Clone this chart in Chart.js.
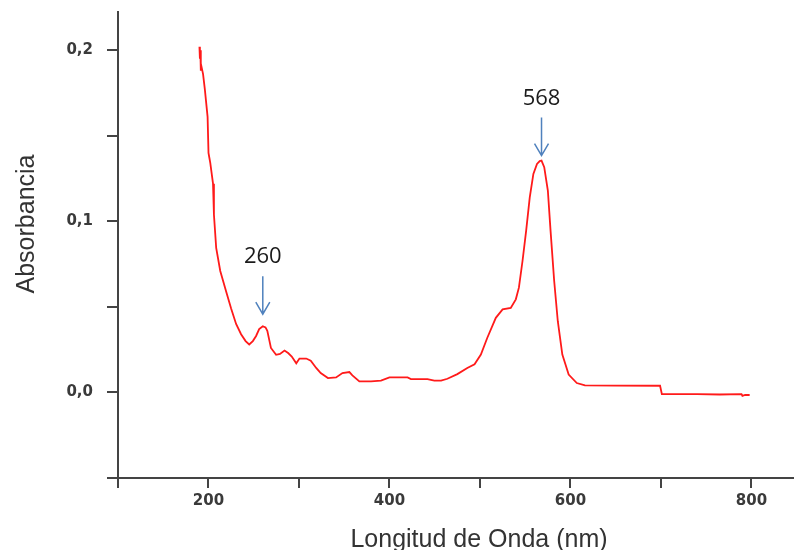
<!DOCTYPE html>
<html>
<head>
<meta charset="utf-8">
<script src="https://cdn.jsdelivr.net/npm/chart.js@4/dist/chart.umd.min.js"></script>
<style>
  html, body { margin: 0; padding: 0; background: #fff; overflow: hidden; }
  #wrap { width: 794px; height: 550px; }
</style>
</head>
<body>
<div id="wrap"><canvas id="spectrum" width="794" height="550"></canvas></div>
<script>
// UV-Vis spectrum, wavelength (nm) vs absorbance
const wavelength = [
  190, 190.5, 191, 191.5, 192, 194, 196, 199, 200, 201, 202, 205, 206, 208.5,
  213, 219.5, 225, 230.5, 236, 241, 245, 249, 252.6, 256, 260, 263, 265, 269,
  274.7, 279, 284, 288, 292, 297, 300.5, 308, 313, 319, 324, 332, 341, 348,
  355.7, 359, 366.7, 379.6, 390.6, 400, 420, 423.7, 442, 449.5, 457, 464, 475,
  486, 494, 501, 508, 517.5, 525, 534, 539.6, 543, 547, 551, 555, 559, 563,
  566, 568, 571, 575, 578, 582, 586, 591, 598, 607, 616, 650, 699, 701, 740,
  765, 789, 790, 793, 798
];
const absorbance = [
  0.202, 0.195, 0.200, 0.188, 0.191, 0.186, 0.177, 0.161, 0.140, 0.137, 0.134, 0.122, 0.104, 0.0845,
  0.071, 0.059, 0.049, 0.040, 0.034, 0.030, 0.028, 0.030, 0.033, 0.037, 0.0387, 0.038, 0.036, 0.026,
  0.022, 0.0225, 0.0245, 0.023, 0.021, 0.017, 0.0198, 0.0198, 0.0186, 0.0143, 0.0113, 0.0084, 0.0088, 0.0113,
  0.0119, 0.010, 0.0065, 0.0065, 0.0069, 0.0088, 0.0088, 0.0078, 0.0078, 0.0069, 0.0069, 0.008, 0.0107,
  0.0143, 0.0165, 0.0221, 0.0318, 0.0436, 0.0485, 0.0494, 0.0544, 0.0612, 0.0768, 0.0944, 0.114, 0.1277, 0.1335,
  0.1352, 0.1355, 0.1316, 0.118, 0.0944, 0.0651, 0.0416, 0.0221, 0.0104, 0.0055, 0.0041, 0.0040, 0.0039, -0.001, -0.001,
  -0.0012, -0.001, -0.002, -0.0015, -0.0015
];

// marked peaks
const peakWavelengths = [260, 568];
const peakLabels = ["260", "568"];

const xTitle = "Longitud de Onda (nm)";
const yTitle = "Absorbancia";

const points = wavelength.map((w, i) => ({ x: w, y: absorbance[i] }));

// space (px) left between each arrow tip and its peak
const arrowGap = [12, 5];

// arrows + numbers above the marked peaks
const peakArrows = {
  id: "peakArrows",
  afterDatasetsDraw(chart) {
    const { ctx, scales: { x, y } } = chart;
    ctx.save();
    peakWavelengths.forEach((w, i) => {
      const idx = wavelength.indexOf(w);
      const px = x.getPixelForValue(w);
      const py = y.getPixelForValue(absorbance[idx]);
      const tip = py - arrowGap[i];
      const top = tip - 38;
      ctx.strokeStyle = "#4f81bd";
      ctx.lineWidth = 1.5;
      ctx.beginPath();
      ctx.moveTo(px, top);
      ctx.lineTo(px, tip);
      ctx.moveTo(px - 7, tip - 12);
      ctx.lineTo(px, tip);
      ctx.lineTo(px + 7, tip - 12);
      ctx.stroke();
      ctx.fillStyle = "#1a1a1a";
      ctx.font = "22px 'Open Sans'";
      ctx.textAlign = "center";
      ctx.textBaseline = "middle";
      ctx.fillText(peakLabels[i], px, top - 19);
    });
    ctx.restore();
  }
};

// axis titles, placed off-centre like the original plot
const axisTitles = {
  id: "axisTitles",
  afterDraw(chart) {
    const { ctx } = chart;
    ctx.save();
    ctx.fillStyle = "#333";
    ctx.font = "25px 'Liberation Sans'";
    ctx.textAlign = "center";
    ctx.textBaseline = "middle";
    ctx.fillText(xTitle, 479, 540);
    ctx.translate(27, 224);
    ctx.rotate(-Math.PI / 2);
    ctx.fillText(yTitle, 0, 0);
    ctx.restore();
  }
};

const axisColor = "#444";
const tickFont = { family: "'DejaVu Sans'", size: 15, weight: "bold" };

// fixed axis boxes, no extra padding for edge labels
const fixBox = size => scale => {
  if (scale.isHorizontal()) scale.height = size;
  else scale.width = size;
  scale.paddingTop = scale.paddingBottom = scale.paddingLeft = scale.paddingRight = 0;
};

new Chart(document.getElementById("spectrum"), {
  type: "line",
  data: {
    datasets: [{
      data: points,
      borderColor: "#ff1a1a",
      borderWidth: 1.8,
      pointRadius: 0,
      tension: 0,
      fill: false
    }]
  },
  options: {
    responsive: false,
    animation: false,
    layout: { padding: { top: 12, right: 0, bottom: 0, left: 0 } },
    plugins: { legend: { display: false }, tooltip: { enabled: false } },
    scales: {
      x: {
        type: "linear",
        min: 100,
        max: 847,
        afterFit: fixBox(72),
        border: { display: true, color: axisColor, width: 2 },
        grid: { drawOnChartArea: false, drawTicks: true, tickLength: 10, color: axisColor, lineWidth: 2 },
        ticks: {
          stepSize: 100,
          includeBounds: false,
          autoSkip: false,
          maxRotation: 0,
          padding: 4,
          color: "#3a3a3a",
          font: tickFont,
          callback: v => (v % 200 === 0 ? String(v) : "")
        }
      },
      y: {
        min: -0.05,
        max: 0.2223,
        afterFit: fixBox(118),
        border: { display: true, color: axisColor, width: 2 },
        grid: { drawOnChartArea: false, drawTicks: true, tickLength: 11, color: axisColor, lineWidth: 2 },
        ticks: {
          stepSize: 0.05,
          includeBounds: false,
          autoSkip: false,
          padding: 14,
          color: "#3a3a3a",
          font: tickFont,
          callback: v => {
            const tenth = v * 10;
            if (v < -1e-9 || Math.abs(tenth - Math.round(tenth)) > 1e-6) return "";
            return v.toFixed(1).replace(".", ",");
          }
        }
      }
    }
  },
  plugins: [peakArrows, axisTitles]
});
</script>
</body>
</html>
